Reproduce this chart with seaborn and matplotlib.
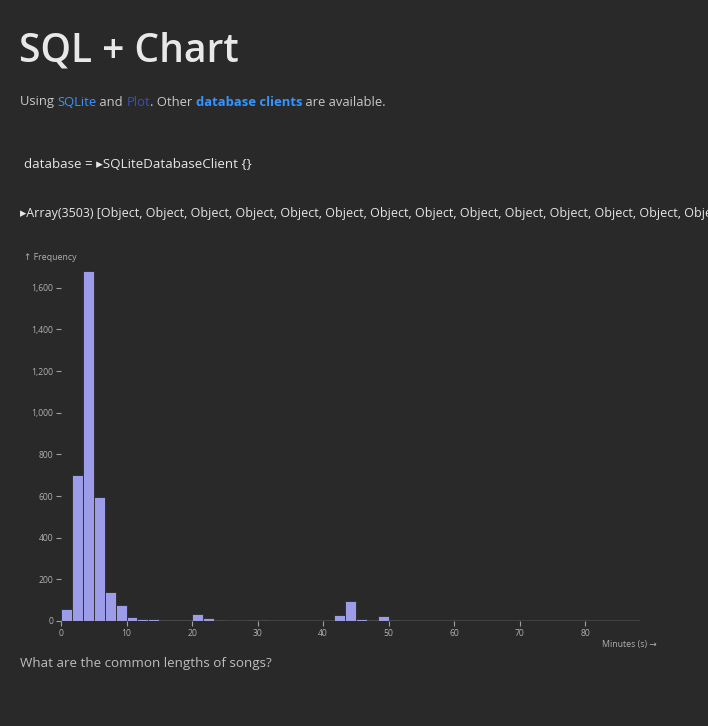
import numpy as np
import pandas as pd
import matplotlib
matplotlib.use("Agg")
import matplotlib.pyplot as plt
import seaborn as sns

# ---- data ----
bin_width_min = 100 / 60  # bins of 100 seconds, shown in minutes
counts = [57, 700, 1680, 595, 140, 78, 20, 10, 10, 5,
          3, 4, 35, 15, 3, 2, 2, 4, 3, 2,
          1, 1, 1, 2, 6, 30, 98, 10, 3, 22,
          4, 1, 1, 0, 1, 0, 1, 0, 0, 1,
          0, 0, 1, 0, 0, 0, 0, 0, 0, 1,
          0, 0, 1]
x_ticks = [0, 10, 20, 30, 40, 50, 60, 70, 80]
y_ticks = [0, 200, 400, 600, 800, 1000, 1200, 1400, 1600]
title = "SQL + Chart"
subtitle = [("Using ", "#c8c8c8", "normal"), ("SQLite", "#3794ff", "normal"),
            (" and ", "#c8c8c8", "normal"), ("Plot", "#3a4fc0", "normal"),
            (". Other ", "#c8c8c8", "normal"), ("database clients", "#3794ff", "bold"),
            (" are available.", "#c8c8c8", "normal")]
cell1 = "database = \u25b8SQLiteDatabaseClient {}"
cell2 = "\u25b8Array(3503) [" + ", ".join(["Object"] * 16) + "]"
caption = "What are the common lengths of songs?"
y_label = "\u2191 Frequency"
x_label = "Minutes (s) \u2192"

BG = "#292929"
BAR = "#9c9ce8"
AX = "#a0a0a0"

sns.set_theme(style="dark")
plt.rcParams["font.family"] = ["Open Sans", "DejaVu Sans"]

n_bins = len(counts)
x_max = n_bins * bin_width_min
centers = (np.arange(n_bins) + 0.5) * bin_width_min
df = pd.DataFrame({"minutes": centers, "count": counts})

fig = plt.figure(figsize=(7.08, 7.26), dpi=100, facecolor=BG)
W, H = 708, 726

def fx(px):
    return px / W

def fy(py):
    return 1 - py / H

ax = fig.add_axes([fx(61), fy(621), fx(640) - fx(61), fy(271) - fy(621)])
ax.set_facecolor(BG)
sns.histplot(data=df, x="minutes", weights="count", binwidth=bin_width_min,
             binrange=(0, x_max), ax=ax,
             color=BAR, alpha=1.0, edgecolor=BG, linewidth=0.6)
ax.set_xlim(0, x_max)
ax.set_ylim(0, 1680)
for s in ax.spines.values():
    s.set_visible(False)
ax.axhline(0, color=AX, lw=1.0, zorder=5)
ax.grid(False)
ax.set_xticks(x_ticks)
ax.set_xticklabels([str(v) for v in x_ticks])
ax.set_yticks(y_ticks)
ax.set_yticklabels([f"{v:,}" for v in y_ticks])
ax.tick_params(axis="both", colors=AX, labelcolor="#b0b0b0", labelsize=6.2,
               length=3.5, width=0.8, direction="out", pad=2,
               bottom=True, left=True)
ax.set_xlabel("")
ax.set_ylabel("")

fig.text(fx(24), fy(258), y_label, color="#b0b0b0", fontsize=6.3, va="center", ha="left")
fig.text(fx(657), fy(645), x_label, color="#b0b0b0", fontsize=6.3, va="center", ha="right")

fig.text(fx(19), fy(52), title, color="#e8e8e8", fontsize=28, fontweight="semibold",
         va="center", ha="left")

# subtitle with coloured segments, placed one after another
renderer = fig.canvas.get_renderer()
xpos = fx(20)
for txt, col, wt in subtitle:
    t = fig.text(xpos, fy(102), txt, color=col, fontsize=9.4, fontweight=wt,
                 va="center", ha="left")
    bb = t.get_window_extent(renderer=renderer)
    xpos += bb.width / W

fig.text(fx(24), fy(165), cell1, color="#e6e6e6", fontsize=9.6, va="center", ha="left")
fig.text(fx(20), fy(214), cell2, color="#e6e6e6", fontsize=9.0, va="center", ha="left")
fig.text(fx(20), fy(663), caption, color="#bdbdbd", fontsize=9.6, va="center", ha="left")

fig.savefig("out.png", dpi=100, facecolor=BG)
